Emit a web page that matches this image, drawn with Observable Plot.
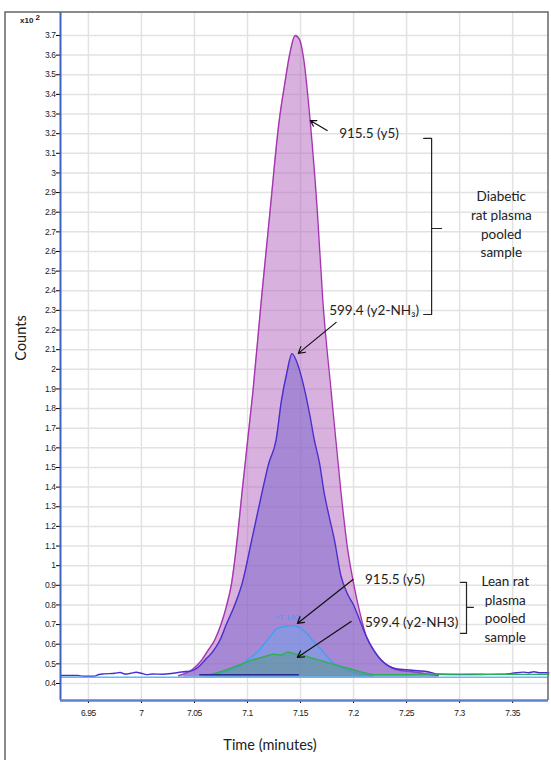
<!DOCTYPE html>
<html><head><meta charset="utf-8">
<script src="https://cdn.jsdelivr.net/npm/d3@7"></script>
<script src="https://cdn.jsdelivr.net/npm/@observablehq/plot@0.6"></script>
<style>body{margin:0;background:#fff;} #chart{position:relative;width:551px;height:760px;}
g[aria-label="x-axis tick label"] text, g[aria-label="y-axis tick label"] text{letter-spacing:-0.4px;}
</style>
</head><body><div id="chart"></div>
<script>
// ---- data: [time (min), counts (x10^2)] ----
const diabetic915 = [[7.035,0.44],[7.045,0.46],[7.05,0.48],[7.057,0.52],[7.063,0.57],[7.069,0.62],[7.075,0.70],[7.08,0.79],[7.085,0.91],[7.09,1.12],[7.095,1.38],[7.1,1.63],[7.105,1.88],[7.113,2.35],[7.121,2.79],[7.130,3.27],[7.135,3.45],[7.140,3.61],[7.145,3.70],[7.149,3.68],[7.153,3.58],[7.159,3.27],[7.166,2.79],[7.171,2.35],[7.179,1.88],[7.188,1.38],[7.194,1.10],[7.200,0.91],[7.206,0.76],[7.212,0.64],[7.22,0.56],[7.228,0.51],[7.236,0.48],[7.245,0.465],[7.255,0.46],[7.265,0.452],[7.28,0.44]];
const diabetic599 = [[6.924,0.441],[6.94,0.441],[6.945,0.437],[6.955,0.437],[6.96,0.446],[6.965,0.449],[6.975,0.452],[6.98,0.456],[6.985,0.448],[6.99,0.452],[6.995,0.457],[7.0,0.452],[7.005,0.445],[7.01,0.448],[7.02,0.447],[7.03,0.452],[7.04,0.46],[7.045,0.462],[7.05,0.47],[7.055,0.49],[7.06,0.52],[7.067,0.56],[7.074,0.62],[7.08,0.70],[7.088,0.80],[7.095,0.91],[7.104,1.13],[7.114,1.38],[7.12,1.52],[7.127,1.64],[7.132,1.84],[7.137,1.98],[7.142,2.08],[7.147,2.03],[7.1545,1.88],[7.159,1.76],[7.163,1.64],[7.168,1.52],[7.172,1.38],[7.177,1.25],[7.182,1.13],[7.188,0.95],[7.194,0.86],[7.200,0.80],[7.206,0.72],[7.212,0.64],[7.219,0.57],[7.226,0.52],[7.233,0.49],[7.24,0.475],[7.25,0.47],[7.26,0.465],[7.27,0.46],[7.28,0.447],[7.30,0.445],[7.32,0.446],[7.34,0.447],[7.35,0.452],[7.36,0.458],[7.365,0.455],[7.37,0.46],[7.375,0.455],[7.384,0.455]];
const lean915 = [[7.06,0.44],[7.07,0.45],[7.085,0.47],[7.093,0.49],[7.1,0.52],[7.105,0.54],[7.111,0.57],[7.12,0.63],[7.128,0.68],[7.135,0.69],[7.14,0.695],[7.147,0.69],[7.155,0.66],[7.163,0.61],[7.17,0.57],[7.178,0.52],[7.185,0.49],[7.195,0.465],[7.205,0.45],[7.217,0.44]];
const lean599 = [[7.065,0.445],[7.075,0.46],[7.085,0.48],[7.095,0.50],[7.105,0.52],[7.115,0.535],[7.125,0.55],[7.132,0.545],[7.138,0.56],[7.145,0.55],[7.152,0.545],[7.16,0.53],[7.17,0.515],[7.18,0.50],[7.19,0.485],[7.2,0.47],[7.21,0.455],[7.22,0.445],[7.25,0.445],[7.27,0.448],[7.29,0.447],[7.31,0.448],[7.33,0.446],[7.35,0.447],[7.384,0.446]];
const leanBaseline = [[7.055,0.445],[7.148,0.445]];
const baselineLevel = 0.432;

const xTicks = [6.95,7,7.05,7.1,7.15,7.2,7.25,7.3,7.35];
const yTicks = d3.range(4,38).map(i => i/10);

// annotations
const arrows = [
  {x1:7.1751, y1:3.216, x2:7.1592, y2:3.267},
  {x1:7.1836, y1:2.239, x2:7.1479, y2:2.081},
  {x1:7.1995, y1:0.930, x2:7.147, y2:0.706},
  {x1:7.1977, y1:0.716, x2:7.147, y2:0.533}
];
const labels = [
  {x:7.1864, y:3.201, text:"915.5 (y5)"},
  {x:7.177, y:2.300, text:"599.4 (y2-NH₃)"},
  {x:7.2108, y:0.930, text:"915.5 (y5)"},
  {x:7.2108, y:0.711, text:"599.4 (y2-NH3)"}
];
const groups = [
  {x:7.3393, y:2.743, text:"Diabetic\nrat plasma\npooled\nsample"},
  {x:7.343, y:0.785, text:"Lean rat\nplasma\npooled\nsample"}
];
const brackets = [
  [[7.2661,3.1756],[7.2736,3.1756],[7.2736,2.717],[7.283,2.717],[7.2736,2.717],[7.2736,2.279],[7.2661,2.279]],
  [[7.3008,0.915],[7.3065,0.915],[7.3065,0.788],[7.313,0.788],[7.3065,0.788],[7.3065,0.655],[7.3008,0.655]]
];
const peakLabel = [{x:7.1376, y:0.737, text:"*7.140"}];

const X = d => d[0], Y = d => d[1];
const curve = "monotone-x";
const xDom = [6.9237, 7.3838], yDom = [0.3134, 3.817];
const textFont = "Lato, 'Open Sans', sans-serif";

const plot = Plot.plot({
  width: 551, height: 760,
  marginLeft: 60, marginRight: 3, marginTop: 12, marginBottom: 60,
  x: {domain: xDom},
  y: {domain: yDom},
  style: {fontFamily: "'Liberation Sans', Arial, sans-serif", background: "transparent"},
  marks: [
    Plot.gridX(xTicks, {stroke: "#e2e2e2", strokeOpacity: 1, strokeWidth: 1.5}),
    Plot.gridY(yTicks, {stroke: "#e2e2e2", strokeOpacity: 1, strokeWidth: 1.5}),
    Plot.areaY(diabetic915, {x: X, y1: () => baselineLevel, y2: Y, fill: "#b464bd", fillOpacity: 0.5, curve}),
    Plot.line(diabetic915, {x: X, y: Y, stroke: "#a535b0", strokeWidth: 1.4, curve}),
    Plot.areaY(diabetic599.filter(d => d[0] >= 7.04 && d[0] <= 7.28), {x: X, y1: () => baselineLevel, y2: Y, fill: "#7460cc", fillOpacity: 0.5, curve}),
    Plot.line(diabetic599, {x: X, y: Y, stroke: "#4a2fd0", strokeWidth: 1.4, curve}),
    Plot.areaY(lean915, {x: X, y1: () => baselineLevel, y2: Y, fill: "#70a1ec", fillOpacity: 0.5, curve}),
    Plot.line(lean915, {x: X, y: Y, stroke: "#3aa3f2", strokeWidth: 1.3, curve}),
    Plot.areaY(lean599.filter(d => d[0] <= 7.22), {x: X, y1: () => baselineLevel, y2: Y, fill: "#50967e", fillOpacity: 0.45, curve}),
    Plot.line(lean599, {x: X, y: Y, stroke: "#2db050", strokeWidth: 1.3, curve}),
    Plot.line(leanBaseline, {x: X, y: Y, stroke: "#2a2a90", strokeWidth: 1.5}),
    Plot.ruleY([baselineLevel], {stroke: "#58bcff", strokeWidth: 1.6}),
    Plot.text(peakLabel, {x: "x", y: "y", text: "text", fill: "#3aa3f2", fontSize: 8}),
    Plot.arrow(arrows, {x1: "x1", y1: "y1", x2: "x2", y2: "y2", stroke: "#111", strokeWidth: 1.2, headLength: 9, bend: 0}),
    Plot.text(labels, {x: "x", y: "y", text: "text", textAnchor: "start", fontSize: 13.5, fill: "#222", fontFamily: textFont}),
    Plot.text(groups, {x: "x", y: "y", text: "text", textAnchor: "middle", fontSize: 13.5, lineHeight: 1.38, fill: "#222", fontFamily: textFont}),
    ...brackets.map(b => Plot.line(b, {x: X, y: Y, stroke: "#222", strokeWidth: 1.2})),
    Plot.axisY(yTicks, {tickSize: 4, tickPadding: 1, fontSize: 8.5, fill: "#1a1a1a", tickFormat: d => String(+d.toFixed(1)), label: null}),
    Plot.axisX(xTicks, {tickSize: 3, tickPadding: 6, fontSize: 8.5, fill: "#1a1a1a", tickFormat: d => String(+d.toFixed(2)), label: null}),
    Plot.ruleX([xDom[0]], {stroke: "#3d62c0", strokeWidth: 2}),
    Plot.ruleY([yDom[0]], {stroke: "#5b80d6", strokeWidth: 2.5})
  ]
});
document.getElementById("chart").appendChild(plot);

const svg = d3.select(plot);
// outer border
svg.append("path").attr("d", "M5,760V12H548V700").attr("fill", "none").attr("stroke", "#666").attr("stroke-width", 1.5);
// axis titles
svg.append("text").attr("transform", "translate(26,338) rotate(-90)").attr("text-anchor", "middle")
  .attr("font-family", textFont).attr("font-size", 14.5).attr("fill", "#222").text("Counts");
svg.append("text").attr("x", 270).attr("y", 750).attr("text-anchor", "middle")
  .attr("font-family", textFont).attr("font-size", 14.5).attr("fill", "#222").text("Time (minutes)");
const mult = svg.append("text").attr("x", 30).attr("y", 23).attr("font-family", "'Liberation Sans', Arial, sans-serif").attr("font-size", 8).attr("font-weight", "bold").attr("fill", "#222");
mult.append("tspan").text("x10 ");
mult.append("tspan").attr("dy", -3).text("2");
</script>
</body></html>
